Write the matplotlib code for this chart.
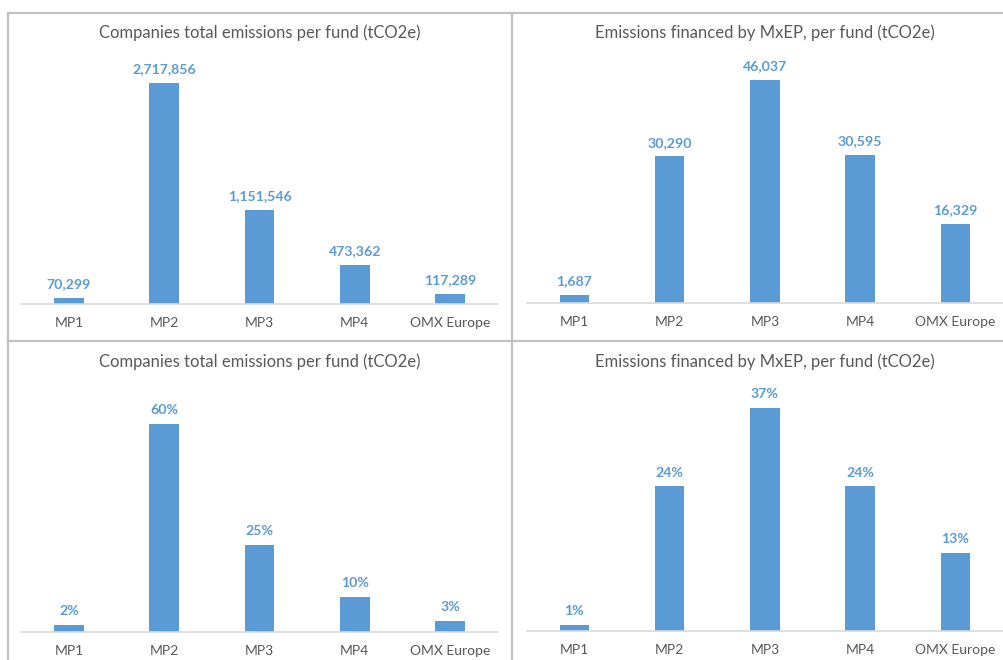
import matplotlib.pyplot as plt
from matplotlib.lines import Line2D

funds = ['MP1', 'MP2', 'MP3', 'MP4', 'OMX Europe']

total_emissions = [70299, 2717856, 1151546, 473362, 117289]
financed_emissions = [1687, 30290, 46037, 30595, 16329]
total_share = [2, 60, 25, 10, 3]
financed_share = [1, 24, 37, 24, 13]

title_total = 'Companies total emissions per fund (tCO2e)'
title_financed = 'Emissions financed by MxEP, per fund (tCO2e)'

BAR = '#5B9BD5'
GREY_TEXT = '#595959'
W, H = 1004, 660

plt.rcParams['font.family'] = ['Lato', 'DejaVu Sans']

fig = plt.figure(figsize=(W / 100, H / 100), dpi=100)
fig.patch.set_facecolor('white')


def px_axes(x0, x1, y_top, y_bot):
    # pixel box (origin top-left) -> figure fraction axes
    return fig.add_axes([x0 / W, 1 - y_bot / H, (x1 - x0) / W, (y_bot - y_top) / H])


def panel(box, values, headroom, title, title_y, fmt):
    ax = px_axes(*box)
    x = range(len(funds))
    ax.bar(x, values, width=0.31, color=BAR, zorder=2)
    ax.set_xlim(-0.5, len(funds) - 0.5)
    ax.set_ylim(0, max(values) * headroom)
    for xi, v in zip(x, values):
        ax.annotate(fmt(v), (xi, v), xytext=(0, 5.5), textcoords='offset points',
                    ha='center', va='bottom', color=BAR, fontsize=10.2,
                    fontweight='bold')
    ax.set_xticks(list(x))
    ax.set_xticklabels(funds, fontsize=10, color=GREY_TEXT)
    ax.tick_params(axis='x', length=0, pad=9.5)
    ax.set_yticks([])
    for side in ('top', 'right', 'left'):
        ax.spines[side].set_visible(False)
    ax.spines['bottom'].set_color('#D9D9D9')
    ax.spines['bottom'].set_linewidth(1.2)
    ax.set_facecolor('none')
    cx = (box[0] + box[1]) / 2
    fig.text(cx / W, 1 - title_y / H, title, ha='center', va='center',
             fontsize=12, color=GREY_TEXT)
    return ax


def comma(v):
    return f'{v:,}'


def pct(v):
    return f'{v}%'


LEFT = (21.4, 497.6)
RIGHT = (526.7, 1003.0)

panel((*LEFT, 70, 303.5), total_emissions, 1.059, title_total, 33, comma)
panel((*RIGHT, 70, 303.0), financed_emissions, 1.045, title_financed, 33, comma)
panel((*LEFT, 395, 631.5), total_share, 1.14, title_total, 362, pct)
panel((*RIGHT, 395, 631.0), financed_share, 1.058, title_financed, 362, pct)

# panel frame lines
frame = dict(color='#C0C0C0', linewidth=1.6)
for (x0, y0), (x1, y1) in [((8.5, 13), (W, 13)), ((8.5, 340.5), (W, 340.5)),
                           ((8.5, 13), (8.5, H)), ((512.5, 13), (512.5, H))]:
    fig.add_artist(Line2D([x0 / W, x1 / W], [1 - y0 / H, 1 - y1 / H],
                          transform=fig.transFigure, **frame))

fig.savefig('out.png', dpi=100)
